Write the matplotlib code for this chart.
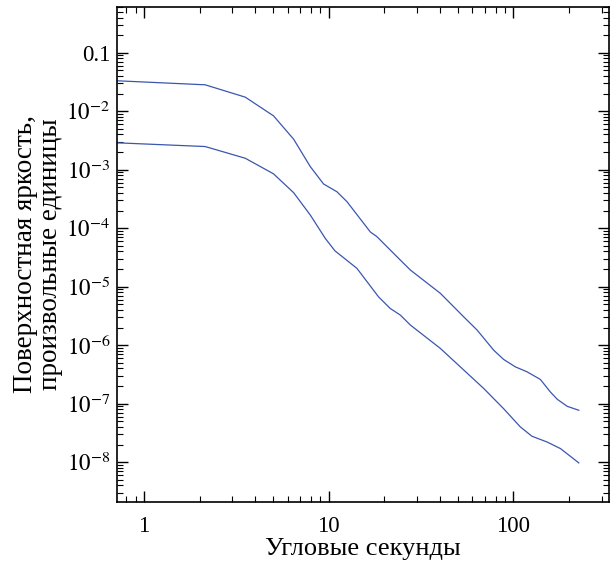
import math
import matplotlib
matplotlib.use("Agg")
from matplotlib import pyplot as plt
from matplotlib.ticker import LogLocator, FuncFormatter, NullFormatter

# Angular distance, arcsec
x_upper = [0.6, 2.14, 3.53, 5.02, 6.45, 7.94, 9.37, 11.07, 12.55, 16.8, 18.2, 24.4,
           27.7, 40.2, 53.8, 63.6, 78.2, 88.5, 102.5, 118.7, 140, 158.6, 172.6,
           195.5, 226]
# Surface brightness, arbitrary units
y_upper = [3.4e-2, 2.83e-2, 1.74e-2, 8.34e-3, 3.33e-3, 1.13e-3, 5.7e-4, 4.2e-4, 2.84e-4,
           8.6e-5, 7.2e-5, 2.85e-5, 1.92e-5, 7.7e-6, 3.05e-6, 1.81e-6, 8.2e-7, 5.7e-7,
           4.25e-7, 3.49e-7, 2.59e-7, 1.58e-7, 1.19e-7, 9.0e-8, 7.7e-8]

x_lower = [0.6, 2.14, 3.53, 5.02, 6.45, 7.94, 9.57, 10.8, 14.2, 18.6, 21.5, 24.4, 27.7,
           40.2, 51.6, 69, 88.5, 109, 126, 152, 180, 226]
y_lower = [2.95e-3, 2.49e-3, 1.57e-3, 8.5e-4, 4.05e-4, 1.68e-4, 6.7e-5, 4.1e-5, 2.06e-5,
           6.7e-6, 4.25e-6, 3.27e-6, 2.2e-6, 8.8e-7, 4.25e-7, 1.82e-7, 8.2e-8, 4.0e-8,
           2.77e-8, 2.21e-8, 1.7e-8, 9.7e-9]

plt.rcParams['font.family'] = ['Liberation Serif', 'DejaVu Serif']
plt.rcParams['mathtext.fontset'] = 'stix'


def y_label_fmt(val, pos):
    if abs(val - 0.1) < 1e-6:
        return '0.1'
    return r'$10^{%d}$' % int(round(math.log10(val)))


fig = plt.figure(figsize=(6.10, 5.68), dpi=100)
ax = fig.add_axes([0.192, 0.116, 0.807, 0.872])

line_color = '#3a56b0'
ax.plot(x_upper, y_upper, color=line_color, lw=0.9)
ax.plot(x_lower, y_lower, color=line_color, lw=0.9)

ax.set_xscale('log')
ax.set_yscale('log')
ax.set_xlim(0.714, 331)
ax.set_ylim(2.07e-9, 0.61)

ax.xaxis.set_major_locator(LogLocator(base=10, numticks=10))
ax.xaxis.set_minor_locator(LogLocator(base=10, subs=range(2, 10), numticks=20))
ax.xaxis.set_major_formatter(FuncFormatter(lambda v, p: '%g' % v))
ax.xaxis.set_minor_formatter(NullFormatter())

ax.yaxis.set_major_locator(LogLocator(base=10, numticks=20))
ax.yaxis.set_minor_locator(LogLocator(base=10, subs=range(2, 10), numticks=20))
ax.yaxis.set_major_formatter(FuncFormatter(y_label_fmt))
ax.yaxis.set_minor_formatter(NullFormatter())

ax.tick_params(which='both', direction='in', top=True, right=True, labelsize=16.5)
ax.tick_params(which='major', length=8, width=1)
ax.tick_params(which='minor', length=4, width=0.8)
ax.tick_params(axis='x', which='major', pad=10)
ax.tick_params(axis='y', which='major', pad=5)
for spine in ax.spines.values():
    spine.set_linewidth(1.2)

ax.set_xlabel('Угловые секунды', fontsize=19)
ax.xaxis.set_label_coords(0.5, -0.072)
ax.set_ylabel('Поверхностная яркость,\nпроизвольные единицы', fontsize=19.5,
              linespacing=1.0)
ax.yaxis.set_label_coords(-0.11, 0.5)

fig.savefig('out.png', dpi=100)
